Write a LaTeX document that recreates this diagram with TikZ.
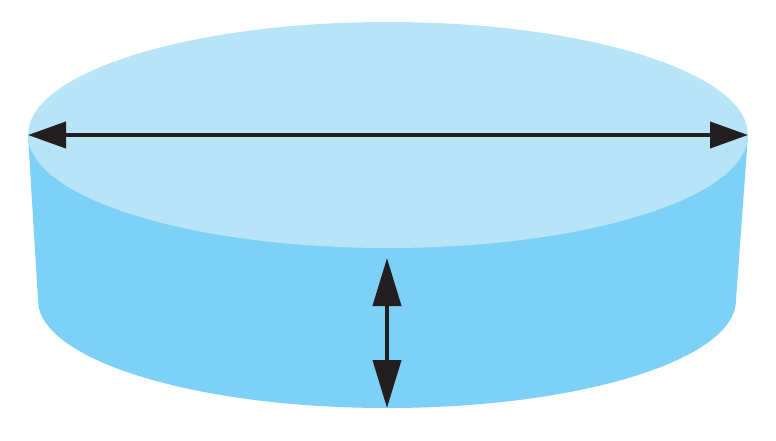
\documentclass[tikz,border=0pt]{standalone}
\usetikzlibrary{arrows.meta}
\definecolor{disctop}{HTML}{B8E4F8}
\definecolor{discside}{HTML}{7DD1F7}
\definecolor{arrowdark}{HTML}{231F20}
\tikzset{dim/.style={line width=4pt, draw=arrowdark, arrows={Triangle[length=38pt,width=26pt]-Triangle[length=38pt,width=26pt]}},
	dimtall/.style={line width=4pt, draw=arrowdark, arrows={Triangle[length=48pt,width=28pt]-Triangle[length=48pt,width=28pt]}}}
\begin{document}
\begin{tikzpicture}[x=1pt,y=-1pt]
	\useasboundingbox (0,0) rectangle (776,440);
	% side of the disc
	\fill [discside] (28,135) -- (38,300) arc [start angle=180, end angle=0, x radius=349, y radius=108] -- (748,135) -- cycle;
	% top face
	\fill [disctop] (388,135) ellipse [x radius=360, y radius=113];
	\coordinate (wl) at (28,135);
	\coordinate (wr) at (748,135);
	\coordinate (ht) at (387,258);
	\coordinate (hb) at (387,408);
	\draw [dim] (wl) -- (wr);
	\draw [dimtall] (ht) -- (hb);
\end{tikzpicture}
\end{document}
